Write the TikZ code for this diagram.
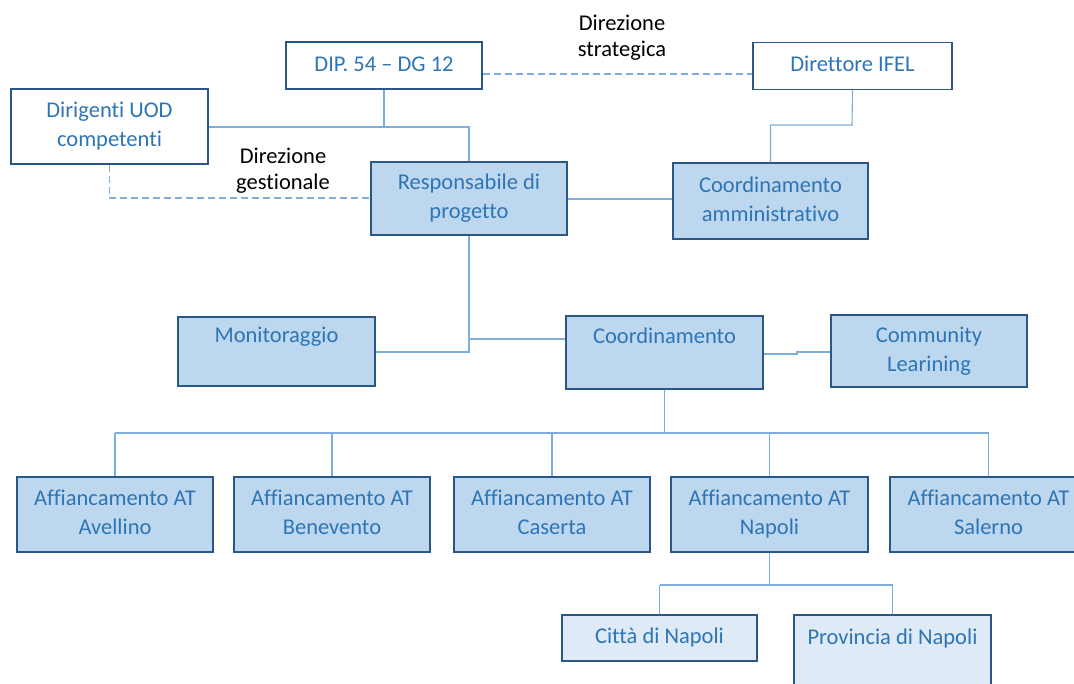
\documentclass[tikz,border=0pt]{standalone}
\usepackage{fontspec}
\setmainfont{Carlito}[Ligatures=NoCommon]
\definecolor{fillc}{HTML}{BDD7EE}
\definecolor{lightc}{HTML}{DEEAF6}
\definecolor{bordc}{HTML}{2B5784}
\definecolor{txtc}{HTML}{2E75B6}
\definecolor{linec}{HTML}{7FAEDD}
\newcommand{\stl}{\strut}
\begin{document}
\begin{tikzpicture}[x=1pt,y=-1pt,
  box/.style={draw=bordc, line width=1.8pt, fill=fillc, text=txtc, inner sep=0pt,
    align=center, minimum width=196pt, font=\fontsize{22.5}{29}\selectfont},
  wbox/.style={box, fill=white},
  lbox/.style={box, fill=lightc},
  conn/.style={draw=linec, line width=1.1pt},
  dconn/.style={conn, dash pattern=on 7pt off 4pt},
  lab/.style={align=center, text=black, inner sep=0pt, font=\fontsize{22.5}{26.3}\selectfont}]
\useasboundingbox (0,0) rectangle (1074,684);
\clip (0,0) rectangle (1074,684);
\fill[white] (0,0) rectangle (1074,684);

\coordinate (jd) at (384,127);
\coordinate (ji) at (852,125);
\coordinate (jr1) at (469,339);
\coordinate (jr2) at (469,352);
\coordinate (jc) at (664.5,433);
\coordinate (jn) at (769.5,585);

% nodes
\node[wbox, minimum width=196pt, minimum height=47pt] (dip) at (384,65.5) {\stl DIP. 54 -- DG 12};
\node[wbox, minimum width=199pt, minimum height=47pt] (ifel) at (852.5,66) {\stl Direttore IFEL};
\node[wbox, minimum width=197pt, minimum height=75pt] (uod) at (109.5,126.5) {\stl Dirigenti UOD\\\stl competenti};
\node[box, minimum height=73pt] (resp) at (469,198.5) {\stl Responsabile di\\\stl progetto};
\node[box, minimum width=195pt, minimum height=76pt] (amm) at (770.5,201) {\stl Coordinamento\\\stl amministrativo};
\node[box, minimum width=197pt, minimum height=69pt] (mon) at (276.5,351.5) {\stl Monitoraggio\\\stl};
\node[box, minimum width=197pt, minimum height=73pt] (coord) at (664.5,352.5) {\stl Coordinamento\\\stl};
\node[box, minimum height=72pt] (comm) at (929,351) {\stl Community\\\stl Learining};
\node[box, minimum height=75pt] (av) at (115,514.5) {\stl Affiancamento AT\\\stl Avellino};
\node[box, minimum height=75pt] (bn) at (332,514.5) {\stl Affiancamento AT\\\stl Benevento};
\node[box, minimum height=75pt] (ce) at (552,514.5) {\stl Affiancamento AT\\\stl Caserta};
\node[box, minimum width=197pt, minimum height=75pt] (na) at (769.5,514.5) {\stl Affiancamento AT\\\stl Napoli};
\node[box, minimum width=197pt, minimum height=75pt] (sa) at (988.5,514.5) {\stl Affiancamento AT\\\stl Salerno};
\node[lbox, minimum width=195pt, minimum height=46pt] (cit) at (659.5,638) {\stl Città di Napoli};
\node[lbox, minimum width=197pt, minimum height=105pt] (prov) at (892.5,667.5) {\stl Provincia di Napoli\\\stl\\\stl};

% labels
\node[lab] (ls) at (622,38.5) {\stl Direzione\\\stl strategica};
\node[lab] (lg) at (283,171.3) {\stl Direzione\\\stl gestionale};

% connectors
\draw[conn] (dip.south) -- (jd);
\draw[conn] (uod.east |- jd) -| (resp.north);
\draw[conn] (ifel.south) -- (ji) -| (amm.north);
\draw[conn] (resp.east |- 0,199) -- (amm.west |- 0,199);
\draw[dconn] (dip.east |- 0,74) -- (ifel.west |- 0,74);
\draw[dconn] (uod.south) |- (resp.west |- 0,198);
\draw[conn] (resp.south) -- (jr2) -- (mon.east |- jr2);
\draw[conn] (jr1) -- (coord.west |- jr1);
\draw[conn] (coord.east |- 0,354) -- (797,354) -- (797,352) -- (comm.west |- 0,352);
\draw[conn] (coord.south) -- (jc);
\draw[conn] (av.north |- jc) -- (sa.north |- jc);
\foreach \n in {av,bn,ce,na,sa} \draw[conn] (\n.north |- jc) -- (\n.north);
\draw[conn] (na.south) -- (jn);
\draw[conn] (cit.north |- jn) -- (prov.north |- jn);
\draw[conn] (cit.north |- jn) -- (cit.north);
\draw[conn] (prov.north |- jn) -- (prov.north);
\end{tikzpicture}
\end{document}
